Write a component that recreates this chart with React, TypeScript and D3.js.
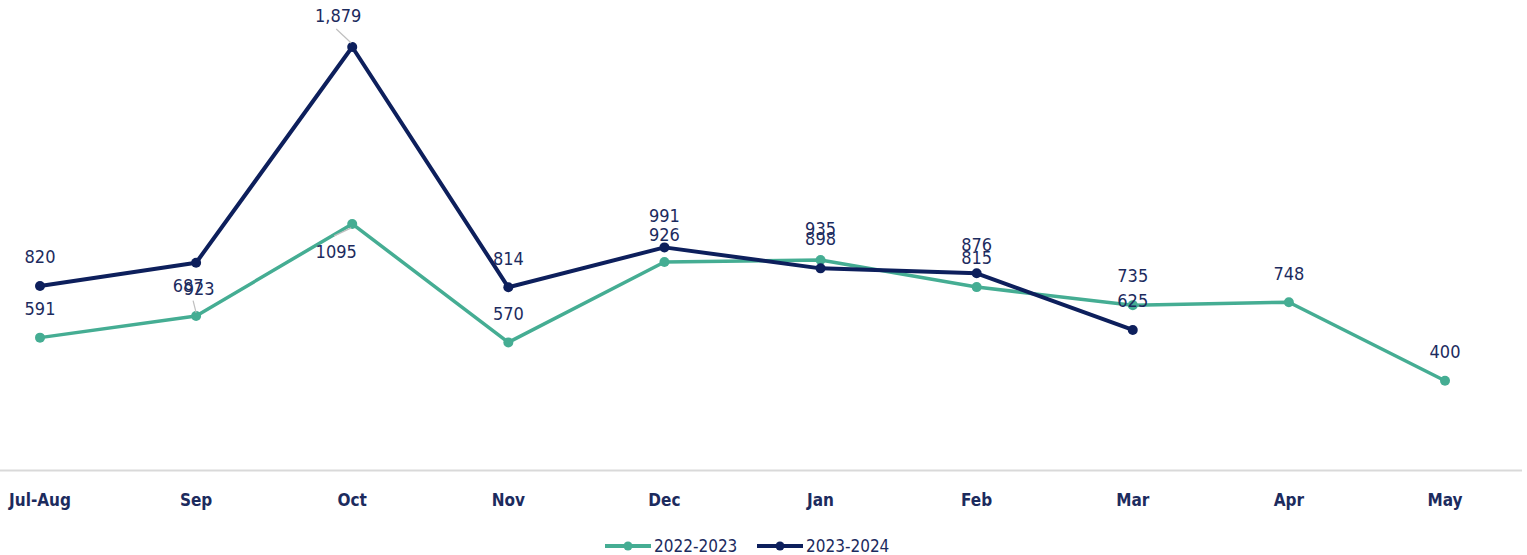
import React from "react";
import * as d3 from "d3";

const categories = ["Jul-Aug", "Sep", "Oct", "Nov", "Dec", "Jan", "Feb", "Mar", "Apr", "May"];
const values2022 = [591, 687, 1095, 570, 926, 935, 815, 735, 748, 400];
const values2023 = [820, 923, 1879, 814, 991, 898, 876, 625, null, null];
const seriesNames = ["2022-2023", "2023-2024"];

const width = 1527;
const height = 555;
const green = "#45ad93";
const navy = "#0d1f5c";
const textColor = "#1c2b5e";
const font = "'Liberation Sans Narrow', 'DejaVu Sans Condensed', 'Roboto Condensed', sans-serif";

// label placement tweaks (Excel moved a few labels around); leader = [dx1, dy1 from label, dx2, dy2 from point]
const labelTweaks: Record<string, { dx?: number; dy?: number; leader?: number[] }> = {
  "0-1": { dx: -8, dy: -1 },
  "1-1": { dx: 3, dy: 55, leader: [-6, 12, 0, 50] },
  "1-2": { dx: -14, dy: -2, leader: [-2, 13, -1, -4] },
  "0-2": { dx: -16, dy: 57, leader: [-2, -16, -1, 4] },
  "1-4": { dy: -3 },
  "0-4": { dy: 2 },
  "0-5": { dy: -2 },
  "1-5": { dy: -1 },
};

export default function App() {
  const x = d3.scalePoint<string>().domain(categories).range([40, 1445]);
  const y = d3.scaleLinear().domain([0, 1879]).range([471, 47]);

  const series = [
    { name: seriesNames[0], values: values2022, color: green, fmt: d3.format("d"), width: 3.5 },
    { name: seriesNames[1], values: values2023, color: navy, fmt: d3.format(","), width: 4 },
  ];

  const line = d3
    .line<number | null>()
    .defined((d) => d != null)
    .x((_, i) => x(categories[i]) as number)
    .y((d) => y(d as number));

  return (
    <svg width={width} height={height} style={{ position: "absolute", left: 0, top: 0, background: "#fff" }}>
      <line x1={0} x2={1522} y1={470.5} y2={470.5} stroke="#d9d9d9" strokeWidth={2} />
      {categories.map((c) => (
        <text
          key={c}
          x={x(c)}
          y={506}
          textAnchor="middle"
          fontFamily={font}
          fontWeight="bold"
          fontSize={17}
          fill={textColor}
        >
          {c}
        </text>
      ))}

      {series.map((s) => (
        <g key={s.name}>
          <path d={line(s.values) || ""} fill="none" stroke={s.color} strokeWidth={s.width} strokeLinejoin="round" />
          {s.values.map((v, i) =>
            v == null ? null : <circle key={i} cx={x(categories[i])} cy={y(v)} r={5} fill={s.color} />
          )}
        </g>
      ))}

      {series.map((s, si) =>
        s.values.map((v, i) => {
          if (v == null) return null;
          const t = labelTweaks[`${si}-${i}`] || {};
          const px = x(categories[i]) as number;
          const py = y(v);
          const lx = px + (t.dx || 0);
          const ly = py - 29 + (t.dy || 0);
          return (
            <g key={`${si}-${i}`}>
              {t.leader && (
                <line
                  x1={lx + t.leader[0]}
                  y1={ly + t.leader[1]}
                  x2={px + t.leader[2]}
                  y2={py + t.leader[3]}
                  stroke="#bfbfbf"
                  strokeWidth={1.2}
                />
              )}
              <text
                x={lx}
                y={ly}
                dy="0.35em"
                textAnchor="middle"
                fontFamily={font}
                fontSize={18}
                fill={textColor}
              >
                {s.fmt(v)}
              </text>
            </g>
          );
        })
      )}

      {series.map((s, i) => {
        const lx = 605 + i * 152;
        return (
          <g key={s.name} transform={`translate(${lx},546)`}>
            <line x1={0} x2={46} stroke={s.color} strokeWidth={4} />
            <circle cx={23} cy={0} r={4.5} fill={s.color} />
            <text x={49} dy="0.35em" fontFamily={font} fontSize={17} fill={textColor}>
              {s.name}
            </text>
          </g>
        );
      })}
    </svg>
  );
}
